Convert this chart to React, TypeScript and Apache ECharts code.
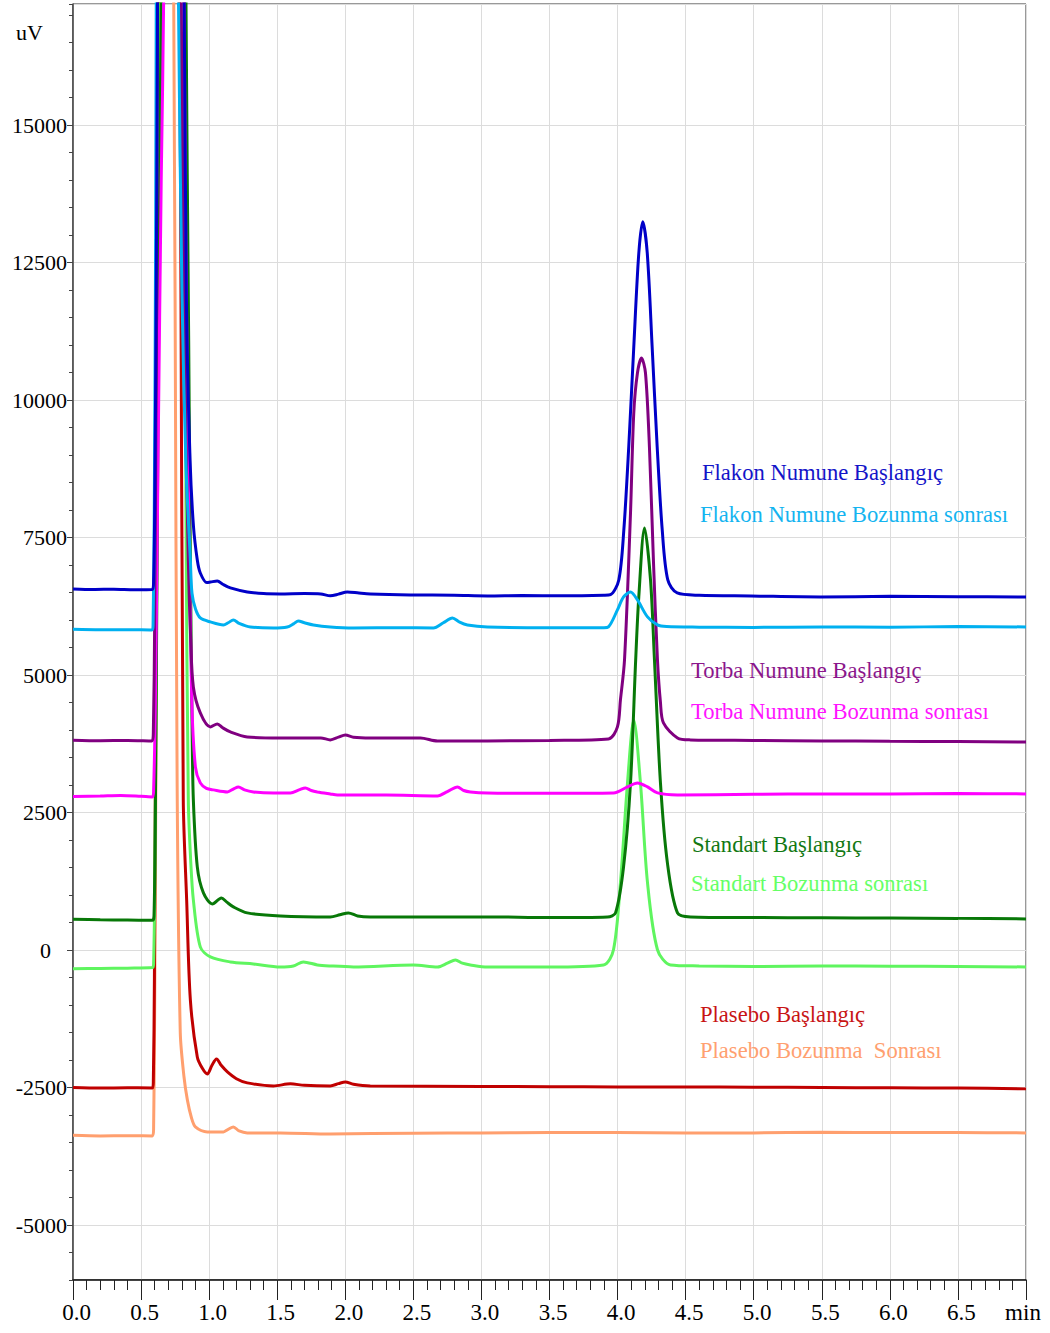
import React, { useEffect, useRef } from 'react';
import * as echarts from 'echarts';

// Time (min) / signal (uV) points
const flakonBaslangic: [number, number][] = [
  [0, 6565], [0.15, 6555], [0.3, 6560], [0.45, 6550], [0.583, 6555], [0.592, 6700], [0.6, 8000], [0.61, 11500],
  [0.62, 16500], [0.635, 28000], [0.7, 45000], [0.78, 32000], [0.815, 18000], [0.833, 11800], [0.86, 8900],
  [0.885, 7700], [0.913, 7092], [0.935, 6855], [0.983, 6680], [1.01, 6690], [1.06, 6710], [1.1, 6650],
  [1.156, 6583], [1.28, 6510], [1.4, 6480], [1.52, 6474], [1.7, 6480], [1.82, 6474], [1.89, 6440], [1.95, 6470],
  [2.015, 6510], [2.1, 6490], [2.184, 6474], [2.478, 6456], [2.8, 6450], [3.044, 6437], [3.3, 6445], [3.6, 6440],
  [3.9, 6450], [3.948, 6460], [4.009, 6728], [4.046, 7637], [4.082, 9146], [4.119, 10964], [4.156, 12673],
  [4.185, 13242], [4.218, 12673], [4.254, 10964], [4.291, 9146], [4.328, 7637], [4.369, 6728], [4.438, 6492],
  [4.6, 6450], [4.98, 6437], [5.49, 6419], [6.0, 6430], [6.5, 6425], [7.0, 6419],
];

const flakonBozunma: [number, number][] = [
  [0, 5830], [0.2, 5822], [0.4, 5825], [0.58, 5819], [0.588, 5900], [0.597, 8000], [0.607, 13000], [0.618, 22000],
  [0.68, 45000], [0.74, 38000], [0.765, 22000], [0.775, 17200], [0.8, 12000], [0.83, 8800], [0.862, 7092],
  [0.874, 6486], [0.9, 6200], [0.935, 6038], [1.009, 5965], [1.105, 5910], [1.14, 5950], [1.178, 6001],
  [1.22, 5940], [1.303, 5874], [1.472, 5856], [1.574, 5874], [1.62, 5930], [1.655, 5983], [1.7, 5950],
  [1.766, 5910], [1.89, 5874], [2.06, 5856], [2.4, 5860], [2.647, 5856], [2.72, 5950], [2.787, 6038],
  [2.84, 5960], [2.897, 5910], [3.044, 5874], [3.5, 5860], [3.9, 5860], [3.933, 5874], [3.999, 6183],
  [4.044, 6419], [4.095, 6510], [4.146, 6365], [4.22, 6056], [4.293, 5910], [4.36, 5880], [4.6, 5870],
  [5.0, 5865], [5.5, 5874], [6.0, 5870], [6.5, 5880], [7.0, 5874],
];

const torbaBaslangic: [number, number][] = [
  [0, 3815], [0.2, 3805], [0.4, 3810], [0.58, 3801], [0.59, 3950], [0.6, 6000], [0.612, 11000], [0.625, 20000],
  [0.69, 45000], [0.76, 35000], [0.795, 17200], [0.82, 11000], [0.847, 7092], [0.865, 5600], [0.884, 4783],
  [0.935, 4310], [1.009, 4056], [1.06, 4110], [1.1, 4040], [1.156, 3965], [1.28, 3874], [1.52, 3856],
  [1.82, 3856], [1.89, 3820], [1.95, 3870], [2.0, 3910], [2.06, 3870], [2.184, 3856], [2.552, 3856],
  [2.677, 3801], [3.044, 3801], [3.5, 3810], [3.933, 3838], [3.999, 4056], [4.021, 4547], [4.051, 5274],
  [4.095, 7946], [4.119, 9764], [4.146, 10491], [4.176, 10764], [4.205, 10491], [4.234, 9146], [4.264, 7037],
  [4.293, 5274], [4.315, 4500], [4.337, 4128], [4.44, 3856], [4.536, 3820], [5.0, 3810], [5.5, 3801],
  [6.0, 3795], [6.5, 3790], [7.0, 3783],
];

const torbaBozunma: [number, number][] = [
  [0, 2790], [0.2, 2800], [0.35, 2810], [0.5, 2795], [0.583, 2784], [0.592, 2900], [0.605, 4500], [0.625, 9000],
  [0.648, 14000], [0.667, 17500], [0.7, 35000], [0.78, 35000], [0.815, 17200], [0.845, 9000], [0.872, 4600],
  [0.899, 3329], [0.935, 3038], [0.98, 2940], [1.032, 2911], [1.134, 2874], [1.18, 2930], [1.215, 2965],
  [1.26, 2910], [1.325, 2874], [1.472, 2856], [1.597, 2856], [1.66, 2910], [1.707, 2947], [1.75, 2900],
  [1.795, 2874], [1.89, 2838], [1.942, 2820], [2.3, 2820], [2.677, 2802], [2.75, 2880], [2.824, 2965],
  [2.87, 2900], [2.919, 2874], [3.044, 2856], [3.5, 2850], [3.97, 2856], [4.073, 2965], [4.146, 3038],
  [4.22, 2965], [4.293, 2856], [4.44, 2820], [5.0, 2830], [5.5, 2838], [6.0, 2838], [6.5, 2845], [7.0, 2838],
];

const standartBaslangic: [number, number][] = [
  [0, 560], [0.2, 550], [0.4, 545], [0.583, 540], [0.595, 620], [0.605, 2500], [0.62, 8000], [0.64, 15000],
  [0.665, 22000], [0.72, 45000], [0.8, 35000], [0.83, 17200], [0.85, 11000], [0.862, 7092], [0.875, 4000],
  [0.884, 2729], [0.913, 1511], [0.958, 1038], [1.024, 838], [1.09, 947], [1.13, 870], [1.178, 784],
  [1.28, 675], [1.523, 620], [1.89, 602], [1.96, 640], [2.023, 675], [2.09, 620], [2.184, 602], [3.044, 602],
  [3.5, 590], [3.926, 602], [3.985, 675], [4.044, 1511], [4.095, 3038], [4.133, 5274], [4.156, 6425],
  [4.198, 7674], [4.242, 6728], [4.271, 5274], [4.315, 3038], [4.366, 1584], [4.44, 675], [4.536, 602],
  [5.0, 590], [5.5, 585], [6.0, 580], [6.5, 575], [7.0, 565],
];

const standartBozunma: [number, number][] = [
  [0, -340], [0.2, -335], [0.4, -330], [0.583, -320], [0.592, -250], [0.602, 1500], [0.615, 7000], [0.635, 15000],
  [0.66, 22000], [0.72, 40000], [0.79, 30000], [0.815, 17200], [0.83, 8000], [0.847, 2729], [0.865, 1600],
  [0.884, 911], [0.935, 56], [1.009, -126], [1.156, -217], [1.325, -253], [1.523, -308], [1.619, -290],
  [1.692, -217], [1.795, -271], [1.89, -290], [2.06, -308], [2.5, -271], [2.677, -308], [2.75, -240],
  [2.809, -180], [2.86, -240], [2.919, -271], [3.044, -308], [3.5, -308], [3.897, -271], [3.97, 5],
  [4.021, 1220], [4.073, 3038], [4.119, 4180], [4.168, 3038], [4.22, 1220], [4.293, 5], [4.389, -271],
  [4.6, -290], [5.0, -300], [5.5, -290], [6.0, -295], [6.5, -300], [7.0, -308],
];

const plaseboBaslangic: [number, number][] = [
  [0, -2500], [0.2, -2510], [0.4, -2505], [0.583, -2507], [0.59, -2400], [0.598, -500], [0.61, 6000],
  [0.625, 15000], [0.64, 25000], [0.7, 40000], [0.76, 30000], [0.775, 20000], [0.79, 14000], [0.81, 2729],
  [0.835, 900], [0.862, -907], [0.913, -1944], [0.95, -2150], [0.987, -2253], [1.02, -2100], [1.054, -1980],
  [1.09, -2100], [1.134, -2216], [1.2, -2340], [1.28, -2416], [1.472, -2471], [1.597, -2434], [1.7, -2460],
  [1.89, -2471], [1.95, -2430], [2.0, -2398], [2.06, -2440], [2.184, -2471], [3.0, -2480], [3.5, -2485],
  [4.0, -2489], [4.5, -2490], [5.0, -2495], [5.5, -2500], [6.0, -2505], [6.5, -2510], [7.0, -2525],
];

const plaseboBozunma: [number, number][] = [
  [0, -3370], [0.2, -3380], [0.4, -3375], [0.583, -3380], [0.592, -3250], [0.6, -1000], [0.612, 5000],
  [0.625, 13000], [0.645, 25000], [0.69, 40000], [0.725, 28000], [0.74, 17200], [0.75, 11800], [0.765, 3000],
  [0.788, -1507], [0.815, -2300], [0.84, -2725], [0.87, -3050], [0.899, -3216], [0.987, -3307], [1.105, -3307],
  [1.14, -3260], [1.178, -3216], [1.22, -3290], [1.28, -3325], [1.523, -3325], [1.89, -3344], [2.5, -3330],
  [3.0, -3325], [3.5, -3320], [4.0, -3320], [4.5, -3325], [5.0, -3325], [5.5, -3315], [6.0, -3320],
  [6.5, -3320], [7.0, -3325],
];

const seriesNames = [
  'Plasebo Bozunma  Sonrası',
  'Plasebo Başlangıç',
  'Standart Bozunma sonrası',
  'Standart Başlangıç',
  'Torba Numune Bozunma sonrası',
  'Torba Numune Başlangıç',
  'Flakon Numune Bozunma sonrası',
  'Flakon Numune Başlangıç',
];
const seriesData = [
  plaseboBozunma, plaseboBaslangic, standartBozunma, standartBaslangic,
  torbaBozunma, torbaBaslangic, flakonBozunma, flakonBaslangic,
];
const lineColors = ['#ff9f6e', '#c00000', '#5ff55f', '#087808', '#ff00ff', '#800080', '#00b0f0', '#0000c8'];
const textColors = ['#ffa070', '#c81414', '#66ff66', '#127812', '#ff14ff', '#8b168b', '#14b4f0', '#1414c8'];
// annotation anchor positions (px) for each series label
const labelPos: [number, number][] = [
  [700, 1050], [700, 1014], [691, 883], [692, 844], [691, 711], [691, 670], [700, 514], [702, 472],
];

const FONT = '"Liberation Serif", "Times New Roman", serif';

export default function App() {
  const ref = useRef<HTMLDivElement>(null);
  useEffect(() => {
    const chart = echarts.init(ref.current!, undefined, { renderer: 'svg' });
    chart.setOption({
      animation: false,
      backgroundColor: '#ffffff',
      grid: {
        left: 73, right: 24, top: 4, bottom: 53, show: true,
        borderColor: '#333', borderWidth: 1, backgroundColor: 'transparent',
      },
      xAxis: {
        type: 'value', min: 0, max: 7, interval: 0.5,
        axisLine: { show: true, onZero: false, lineStyle: { color: '#111', width: 1.5 } },
        axisTick: { show: true, length: 20, lineStyle: { color: '#222', width: 1 } },
        minorTick: { show: true, splitNumber: 5, length: 10, lineStyle: { color: '#222', width: 1 } },
        splitLine: { show: true, lineStyle: { color: '#dcdcdc', width: 1 } },
        axisLabel: {
          margin: 21, color: '#000', fontSize: 23, fontFamily: FONT,
          showMinLabel: true, showMaxLabel: true,
          formatter: (v: number) => (v >= 6.999 ? '{m|min}' : '{a|' + v.toFixed(1) + '}'),
          rich: {
            a: { padding: [0, 0, 0, 7], fontSize: 23, fontFamily: FONT, color: '#000' },
            m: { padding: [0, 6, 0, 0], fontSize: 23, fontFamily: FONT, color: '#000' },
          },
        },
      },
      yAxis: [
        {
          type: 'value', min: -6000, max: 17200, minInterval: 2500, maxInterval: 2500,
          axisLine: { show: true, onZero: false, lineStyle: { color: '#444', width: 1.5 } },
          axisTick: { show: true, length: 6, lineStyle: { color: '#444', width: 1 } },
          splitLine: { show: true, lineStyle: { color: '#dcdcdc', width: 1 } },
          axisLabel: {
            margin: 6, color: '#000', fontSize: 22, fontFamily: FONT,
            showMinLabel: false, showMaxLabel: false,
            formatter: (v: number) => (v === 0 ? '{z|0}' : String(v)),
            rich: { z: { padding: [0, 16, 0, 0], fontSize: 22, fontFamily: FONT, color: '#000' } },
          },
        },
        {
          type: 'value', min: -6000, max: 17200, interval: 500, position: 'left',
          axisLine: { show: false },
          axisTick: { show: true, length: 4, lineStyle: { color: '#444', width: 1 } },
          axisLabel: { show: false },
          splitLine: { show: false },
        },
      ],
      series: seriesData.map((d, i) => ({
        name: seriesNames[i],
        type: 'line',
        yAxisIndex: 0,
        data: d,
        showSymbol: false,
        symbol: 'none',
        smooth: 0.3,
        clip: true,
        lineStyle: { color: lineColors[i], width: 3 },
        itemStyle: { color: lineColors[i] },
      })),
      graphic: [
        {
          type: 'text', x: 16, y: 32, z: 100,
          style: { text: 'uV', fill: '#000', font: `22px ${FONT}`, verticalAlign: 'middle' },
        },
        ...seriesNames.map((n, i) => ({
          type: 'text', x: labelPos[i][0], y: labelPos[i][1], z: 100,
          style: { text: n, fill: textColors[i], font: `22.6px ${FONT}`, verticalAlign: 'middle' },
        })),
      ],
    });
    return () => chart.dispose();
  }, []);
  return <div ref={ref} style={{ position: 'absolute', left: 0, top: 0, width: 1050, height: 1333 }} />;
}
